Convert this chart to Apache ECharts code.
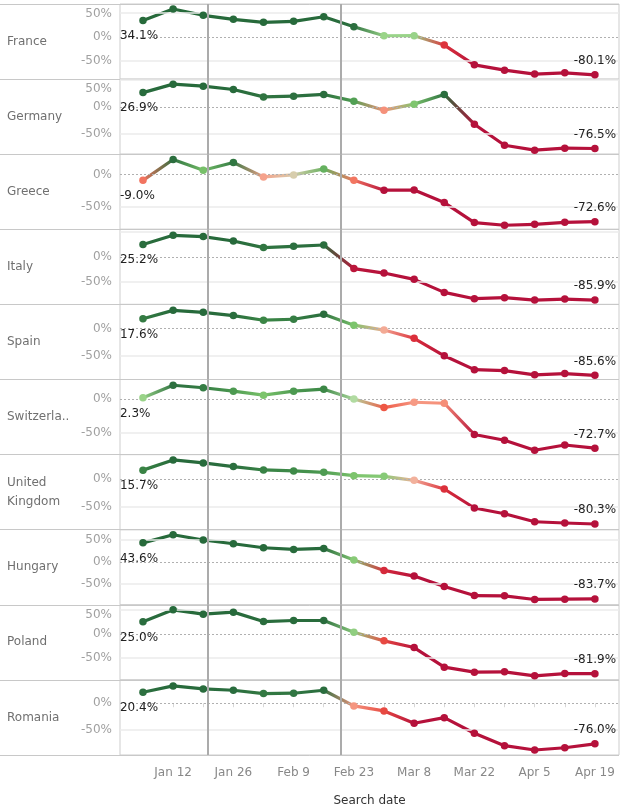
<!DOCTYPE html>
<html><head><meta charset="utf-8">
<script src="https://cdn.jsdelivr.net/npm/echarts@6/dist/echarts.min.js"></script>
<style>html,body{margin:0;padding:0;background:#fff}#c{width:624px;height:808px}</style>
</head><body><div id="c"></div>
<script>
// ---------- data ----------
const countries = ['France','Germany','Greece','Italy','Spain','Switzerland','United Kingdom','Hungary','Poland','Romania'];
const weekLabels = ['Jan 5','Jan 12','Jan 19','Jan 26','Feb 2','Feb 9','Feb 16','Feb 23','Mar 1','Mar 8','Mar 15','Mar 22','Mar 29','Apr 5','Apr 12','Apr 19'];
const shownWeekLabels = ['Jan 12','Jan 26','Feb 9','Feb 23','Mar 8','Mar 22','Apr 5','Apr 19'];
const franceVals      = [34.1, 58.4, 45.2, 36.7, 30.4, 32.5, 42.2, 21.1, 2.1, 2.2, -17.5, -59.1, -70.3, -78.7, -76.0, -80.1];
const germanyVals     = [26.9, 42.6, 38.9, 32.7, 19.0, 20.4, 23.5, 11.1, -5.6, 5.6, 23.5, -31.5, -70.4, -79.6, -75.8, -76.5];
const greeceVals      = [-9.0, 23.1, 6.6, 18.5, -3.7, -0.6, 8.6, -8.8, -24.2, -24.0, -43.2, -74.1, -78.2, -76.7, -73.6, -72.6];
const italyVals       = [25.2, 43.4, 40.8, 32.0, 18.8, 21.4, 24.0, -23.0, -32.0, -44.6, -70.6, -83.2, -81.2, -86.0, -84.0, -85.9];
const spainVals       = [17.6, 33.0, 29.4, 23.5, 15.0, 16.8, 25.8, 6.0, -3.0, -18.0, -50.0, -75.3, -77.0, -84.8, -82.5, -85.6];
const switzerlandVals = [2.3, 20.8, 17.0, 11.9, 6.0, 11.9, 14.9, 0.3, -12.4, -4.5, -6.0, -52.5, -61.0, -75.9, -68.0, -72.7];
const ukVals          = [15.7, 33.9, 28.6, 22.0, 16.0, 14.3, 11.8, 5.9, 4.6, -2.5, -17.9, -51.8, -62.0, -76.3, -78.6, -80.3];
const hungaryVals     = [43.6, 62.0, 50.0, 41.6, 32.5, 28.6, 30.9, 4.5, -19.0, -31.8, -55.4, -76.0, -76.6, -84.9, -84.3, -83.7];
const polandVals      = [25.0, 49.4, 40.5, 44.6, 25.3, 27.4, 27.4, 3.4, -14.4, -28.2, -68.5, -78.8, -78.2, -86.4, -81.7, -81.9];
const romaniaVals     = [20.4, 32.4, 26.8, 24.3, 18.0, 18.7, 24.3, -5.0, -14.4, -37.5, -27.0, -56.2, -79.4, -87.5, -83.2, -76.0];
const seriesVals = [franceVals, germanyVals, greeceVals, italyVals, spainVals, switzerlandVals, ukVals, hungaryVals, polandVals, romaniaVals];
// y tick labels shown per row (percent)
const yTickLabels = [[50,0,-50],[50,0,-50],[0,-50],[0,-50],[0,-50],[0,-50],[0,-50],[50,0,-50],[50,0,-50],[0,-50]];
// reference lines (days after Jan 5): Jan 20, Feb 20
const refLineDays = [15, 46];

// ---------- layout ----------
const yRanges = [[-89.2,69.0],[-87.0,51.9],[-84.4,31.3],[-94.6,55.4],[-93.3,43.9],[-82.3,29.3],[-90.5,43.4],[-97.0,73.4],[-94.7,59.7],[-96.8,43.6]];
const TOP = 4, ROWH = 75.1, LEFT = 120, RIGHT = 5;
const X_MIN = -5.34, X_MAX = 110.6;
const FONT = '"DejaVu Sans", sans-serif';
const FS = 12;

const colorStops = [
  [-24, [181,17,59]], [-18, [219,47,59]], [-12, [239,90,70]], [-8, [243,125,104]],
  [-4, [246,158,136]], [-1, [238,195,176]], [0, [181,220,165]], [2, [155,212,138]],
  [6, [124,196,108]], [10, [88,167,88]], [15, [59,134,70]], [20, [45,112,64]], [30, [39,106,59]]
];
function colorOf(v) {
  if (v <= colorStops[0][0]) return 'rgb(' + colorStops[0][1].join(',') + ')';
  const last = colorStops[colorStops.length - 1];
  if (v >= last[0]) return 'rgb(' + last[1].join(',') + ')';
  for (let k = 0; k < colorStops.length - 1; k++) {
    const a = colorStops[k], b = colorStops[k + 1];
    if (v >= a[0] && v <= b[0]) {
      const t = (v - a[0]) / (b[0] - a[0]);
      const c = a[1].map((x, j) => Math.round(x + (b[1][j] - x) * t));
      return 'rgb(' + c.join(',') + ')';
    }
  }
}

const days = weekLabels.map((_, i) => i * 7);
const labelDays = shownWeekLabels.map(l => days[weekLabels.indexOf(l)]);

const grids = [{ left: 0, right: RIGHT, top: TOP, height: ROWH * countries.length, show: false }];
const xAxes = [{ gridIndex: 0, type: 'value', show: false, min: 0, max: 1 }];
const yAxes = [{
  gridIndex: 0, type: 'category', inverse: true, boundaryGap: true,
  data: countries.map(c => c === 'United Kingdom'
    ? { value: c, textStyle: { overflow: 'break', width: 66, lineHeight: 19 } }
    : c),
  axisLine: { show: false }, axisTick: { show: false },
  splitLine: { show: true, lineStyle: { color: '#c8c8c8', width: 1 } },
  axisLabel: { inside: true, margin: 7, color: '#707070', fontSize: FS, fontFamily: FONT,
    width: 66, overflow: 'truncate', ellipsis: '..' }
}];
const series = [];

countries.forEach((name, r) => {
  const gi = r + 1;
  const top = TOP + r * ROWH;
  const [ymin, ymax] = yRanges[r];
  grids.push({ left: LEFT, right: RIGHT, top: top, height: ROWH, show: true, borderColor: '#cdcdcd', borderWidth: 1 });
  const isLast = r === countries.length - 1;
  xAxes.push(isLast ? {
    gridIndex: gi, type: 'value', min: X_MIN, max: X_MAX,
    axisLine: { show: false }, splitLine: { show: false },
    axisTick: { show: true, customValues: days, length: 4, lineStyle: { color: '#d8d8d8' } },
    axisLabel: { customValues: labelDays, color: '#888', fontSize: FS, fontFamily: FONT, margin: 12,
      formatter: v => weekLabels[Math.round(v / 7)] },
    name: 'Search date', nameLocation: 'middle', nameGap: 40,
    nameTextStyle: { color: '#333', fontSize: FS, fontFamily: FONT }
  } : { gridIndex: gi, type: 'value', min: X_MIN, max: X_MAX, show: false });
  yAxes.push({ gridIndex: gi, type: 'value', min: ymin, max: ymax, show: false });

  // gridlines (one markLine series per style) + reference lines
  const zeroLines = [], gridLines = [], refLines = [];
  const tickItems = [];
  [50, 0, -50].forEach(v => {
    if (v <= ymin || v >= ymax) return;
    (v === 0 ? zeroLines : gridLines).push({ yAxis: v });
    if (yTickLabels[r].indexOf(v) >= 0) {
      const lineY = top + (ymax - v) / (ymax - ymin) * ROWH;
      const shift = Math.max(0, top + 10 - lineY);
      tickItems.push({ value: [X_MIN, v], label: { offset: [0, shift] } });
    }
  });
  refLineDays.forEach(d => refLines.push({ xAxis: d }));
  const mlSeries = (data, lineStyle, z) => ({
    type: 'line', xAxisIndex: gi, yAxisIndex: gi, data: [], z: z, silent: true,
    markLine: { silent: true, symbol: ['none', 'none'], animation: false, data: data,
      lineStyle: lineStyle, label: { show: false }, emphasis: { disabled: true } }
  });
  series.push(mlSeries(gridLines, { color: '#ebebeb', width: 1.5, type: 'solid' }, 1));
  series.push(mlSeries(zeroLines, { color: '#b0b0b0', width: 1, type: [2, 2] }, 1));
  series.push(mlSeries(refLines, { color: '#ababab', width: 2, type: 'solid' }, 2));
  // y tick labels
  series.push({
    type: 'scatter', xAxisIndex: gi, yAxisIndex: gi, silent: true, z: 2, symbolSize: 0, clip: false,
    itemStyle: { color: 'rgba(0,0,0,0)' },
    label: { show: true, position: 'left', distance: 8, color: '#888', fontSize: FS, fontFamily: FONT,
      formatter: p => p.value[1] + '%' },
    data: tickItems
  });

  const vals = seriesVals[r];
  for (let i = 0; i < vals.length - 1; i++) {
    const c0 = colorOf(vals[i]), c1 = colorOf(vals[i + 1]);
    series.push({
      type: 'line', xAxisIndex: gi, yAxisIndex: gi, silent: true, z: 3,
      symbol: 'none', showSymbol: false,
      data: [[days[i], vals[i]], [days[i + 1], vals[i + 1]]],
      lineStyle: { width: 3.2, cap: 'round',
        color: new echarts.graphic.LinearGradient(0, 0, 1, 0, [{ offset: 0, color: c0 }, { offset: 1, color: c1 }]) }
    });
  }
  const n = vals.length;
  series.push({
    type: 'scatter', xAxisIndex: gi, yAxisIndex: gi, silent: true, z: 5, symbolSize: 7.5,
    itemStyle: { color: p => colorOf(p.value[1]), opacity: 1 },
    data: vals.map((v, i) => {
      const item = { value: [days[i], v] };
      if (i === 0) item.label = { show: true, position: 'bottom', distance: 6, align: 'left', offset: [-23, 0],
        formatter: v.toFixed(1) + '%', color: '#222', fontSize: FS, fontFamily: FONT };
      if (i === n - 1) item.label = { show: true, position: 'top', distance: 4,
        formatter: v.toFixed(1) + '%', color: '#222', fontSize: FS, fontFamily: FONT };
      return item;
    })
  });
});

const chart = echarts.init(document.getElementById('c'), null, { renderer: 'canvas' });
chart.setOption({
  animation: false, backgroundColor: '#fff',
  textStyle: { fontFamily: FONT },
  grid: grids, xAxis: xAxes, yAxis: yAxes, series: series
});
</script></body></html>
